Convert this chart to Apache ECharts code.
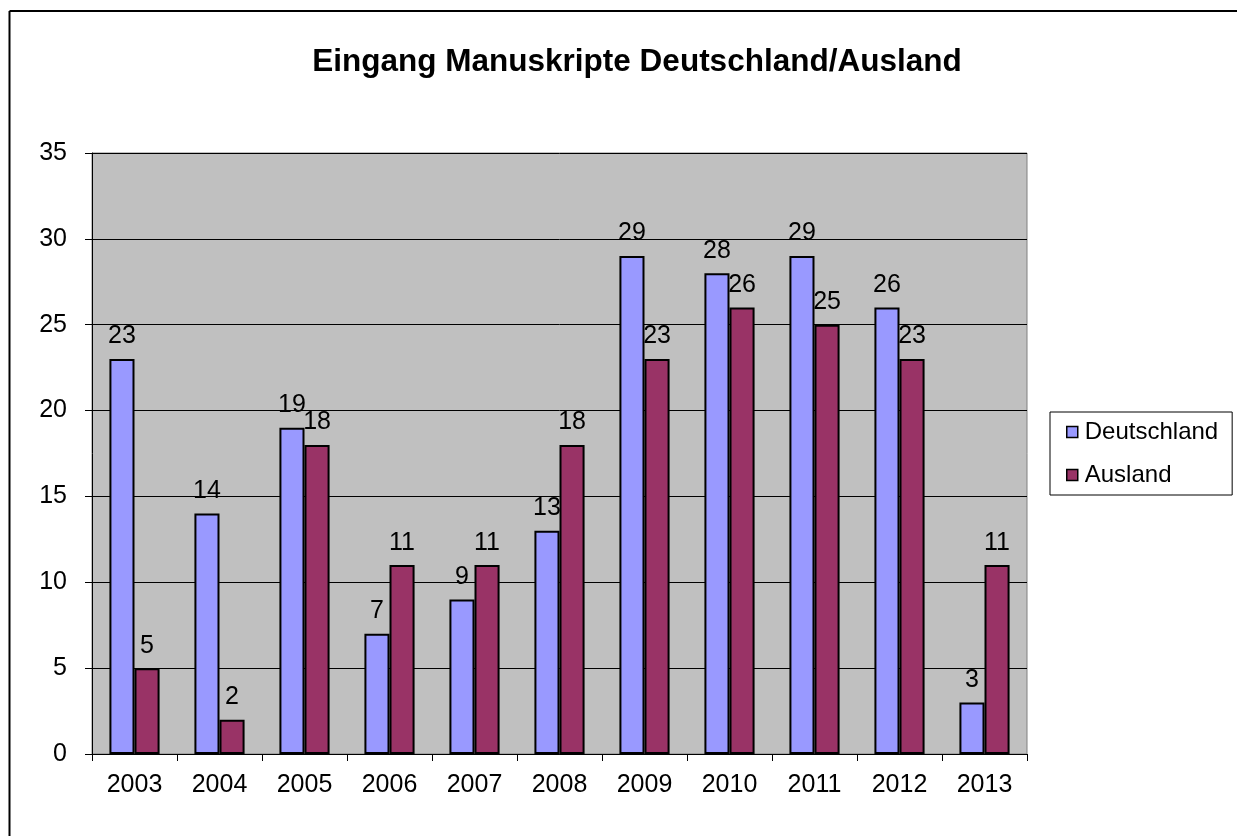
<!DOCTYPE html>
<html>
<head>
<meta charset="utf-8">
<script src="https://cdn.jsdelivr.net/npm/echarts@6/dist/echarts.min.js"></script>
<style>html,body{margin:0;padding:0;background:#fff}#c{width:1237px;height:836px}</style>
</head>
<body>
<div id="c"></div>
<script>
const categories = ['2003','2004','2005','2006','2007','2008','2009','2010','2011','2012','2013'];
const deutschland = [23, 14, 19, 7, 9, 13, 29, 28, 29, 26, 3];
const ausland = [5, 2, 18, 11, 11, 18, 23, 26, 25, 23, 11];
const yTicks = [0, 5, 10, 15, 20, 25, 30, 35];

const chart = echarts.init(document.getElementById('c'), null, {renderer: 'canvas'});
const font = 'Arial, "Liberation Sans", sans-serif';
const lbl = {show: true, position: 'top', distance: 10, color: '#000', fontSize: 25, fontFamily: font};
chart.setOption({
  animation: false,
  backgroundColor: '#fff',
  title: {
    text: 'Eingang Manuskripte Deutschland/Ausland',
    left: 632, top: 41, textAlign: 'center',
    textStyle: {fontFamily: font, fontSize: 31.5, fontWeight: 'bold', color: '#000'}
  },
  graphic: [
    {type: 'line', shape: {x1: 9.5, y1: 11, x2: 1237, y2: 11}, style: {stroke: '#000', lineWidth: 2}},
    {type: 'line', shape: {x1: 9.5, y1: 11, x2: 9.5, y2: 836}, style: {stroke: '#000', lineWidth: 2}}
  ],
  legend: {
    orient: 'vertical',
    left: 1050, top: 412,
    backgroundColor: '#fff',
    borderColor: '#000', borderWidth: 1,
    padding: [8, 14, 8, 16],
    itemGap: 19,
    icon: 'rect',
    itemWidth: 11, itemHeight: 11,
    itemStyle: {borderColor: '#000', borderWidth: 1.5},
    textStyle: {fontFamily: font, fontSize: 24, color: '#000', padding: [0,0,0,2]},
    data: ['Deutschland', 'Ausland']
  },
  grid: {left: 92, top: 153, width: 935, height: 601, show: true, backgroundColor: '#C0C0C0', borderColor: '#808080', borderWidth: 1},
  xAxis: {
    type: 'category', data: categories,
    axisLine: {lineStyle: {color: '#000', width: 1}},
    axisTick: {show: true, length: 7, lineStyle: {color: '#000'}},
    axisLabel: {fontFamily: font, fontSize: 25, color: '#000', margin: 19}
  },
  yAxis: {
    type: 'value', min: 0, max: 35, interval: 5,
    axisLine: {show: true, lineStyle: {color: '#000', width: 1}},
    axisTick: {show: true, length: 7, lineStyle: {color: '#000'}},
    axisLabel: {fontFamily: font, fontSize: 25, color: '#000', margin: 25,
      formatter: v => yTicks.includes(v) ? String(v) : ''},
    splitLine: {show: true, lineStyle: {color: '#000', width: 1}}
  },
  series: [
    {name: 'Deutschland', type: 'bar', data: deutschland, barGap: '0%', barCategoryGap: '41%',
     itemStyle: {color: '#9999FF', borderColor: '#000', borderWidth: 2}, label: lbl},
    {name: 'Ausland', type: 'bar', data: ausland,
     itemStyle: {color: '#993366', borderColor: '#000', borderWidth: 2}, label: lbl}
  ]
});
</script>
</body>
</html>
